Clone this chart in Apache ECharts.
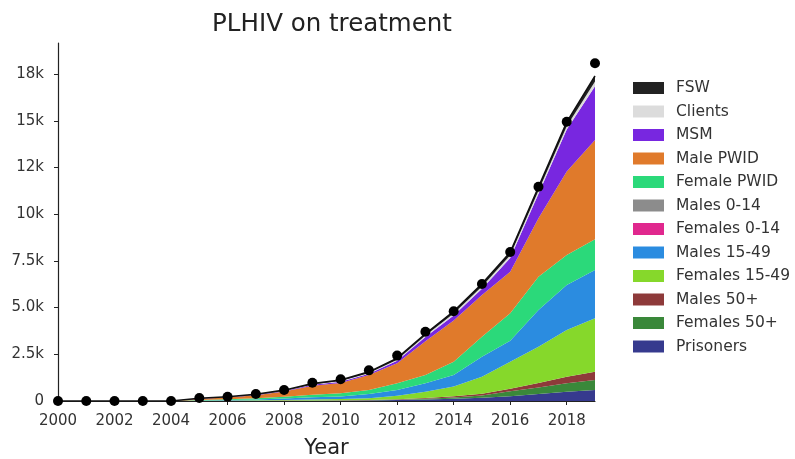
<!DOCTYPE html>
<html>
<head>
<meta charset="utf-8">
<script src="https://cdn.jsdelivr.net/npm/echarts@6/dist/echarts.min.js"></script>
<style>html,body{margin:0;padding:0;background:#fff}#c{width:795px;height:459px}</style>
</head>
<body>
<div id="c"></div>
<script>
const years = ['2000','2001','2002','2003','2004','2005','2006','2007','2008','2009','2010','2011','2012','2013','2014','2015','2016','2017','2018','2019'];
// stacked groups, bottom to top
const prisoners  = [0,0,0,0,0, 2, 4, 6,10,14,20,30,  50,  80, 120, 170, 260, 380, 500, 590];
const females50  = [0,0,0,0,0, 2, 3, 5, 6, 8,10,15,  20,  40,  70, 120, 260, 340, 450, 530];
const males50    = [0,0,0,0,0, 2, 3, 5, 6, 8,10,15,  25,  40,  70, 100, 130, 240, 350, 450];
const females1549= [0,0,0,0,0, 6,12,22,38,55,65,90, 185, 340, 510, 910,1450,1940,2500,2860];
const males1549  = [0,0,0,0,0,18,28,47,80,115,130,220,310,450, 620,1070,1120,1970,2410,2580];
const females014 = [0,0,0,0,0, 0, 0, 0, 0, 0, 0, 0,   0,   0,   0,   0,   0,   0,   0,   0];
const males014   = [0,0,0,0,0, 0, 0, 0, 0, 0, 0, 0,   0,   0,   0,   0,   0,   0,   0,   0];
const femalePWID = [0,0,0,0,0,30,40,60,90,140,180,220,360,440,710,1070,1480,1780,1610,1650];
const malePWID   = [0,0,0,0,0,60,100,165,280,480,545,800,1070,1810,2210,2230,2220,3130,4460,5310];
const msm        = [0,0,0,0,0,10,17,20,25,45,75,65, 130, 220, 270, 340, 740,1310,2250,2880];
const clients    = [0,0,0,0,0, 5, 8,10,15,25,35,45,  60,  80, 100, 120, 140, 160, 180, 250];
const fsw        = [0,0,0,0,0,10,15,20,30,40,50,60,  80, 100, 120, 140, 160, 200, 220, 300];
// data points (total on treatment)
const totalData  = [0,0,0,0,0,160,230,370,590,980,1160,1640,2430,3710,4800,6260,7980,11470,14950,18080];

const yTickValues = [0,2500,5000,7500,10000,12500,15000,17500];
const yTickLabels = ['0','2.5k','5.0k','7.5k','10k','12k','15k','18k'];

const groups = [
  {name:'Prisoners',     data:prisoners,   color:'#363a8e'},
  {name:'Females 50+',   data:females50,   color:'#3a883a'},
  {name:'Males 50+',     data:males50,     color:'#8e3a3a'},
  {name:'Females 15-49', data:females1549, color:'#86d82b'},
  {name:'Males 15-49',   data:males1549,   color:'#2b8ce0'},
  {name:'Females 0-14',  data:females014,  color:'#e0288e'},
  {name:'Males 0-14',    data:males014,    color:'#8c8c8c'},
  {name:'Female PWID',   data:femalePWID,  color:'#2bd97a'},
  {name:'Male PWID',     data:malePWID,    color:'#e07a2b'},
  {name:'MSM',           data:msm,         color:'#7827e0'},
  {name:'Clients',       data:clients,     color:'#dcdcdc'},
  {name:'FSW',           data:fsw,         color:'#222222'}
];
const legendOrder = ['FSW','Clients','MSM','Male PWID','Female PWID','Males 0-14','Females 0-14','Males 15-49','Females 15-49','Males 50+','Females 50+','Prisoners'];

const FONT = 'DejaVu Sans';
const series = groups.map(g => ({
  name: g.name,
  type: 'line',
  stack: 'total',
  symbol: 'none',
  smooth: false,
  data: g.data,
  itemStyle: {color: g.color, borderColor: g.name==='Clients' ? '#aaaaaa' : g.color},
  lineStyle: g.name==='FSW' ? {color:'#111', width:1.6} : {width:0},
  areaStyle: {color: g.color, opacity: 1},
  z: 2
}));
series.push({
  name: 'Data',
  type: 'scatter',
  data: totalData,
  symbolSize: 10,
  itemStyle: {color:'#000', opacity: 1},
  z: 5
});

const chart = echarts.init(document.getElementById('c'), null, {renderer:'canvas'});
chart.setOption({
  animation: false,
  backgroundColor: '#fff',
  title: {
    text: 'PLHIV on treatment', left: 327, top: 7, textAlign: 'center',
    textStyle: {fontFamily: FONT, fontSize: 24.5, fontWeight: 'normal', color: '#222'}
  },
  grid: {left: 58, right: 200, top: 43, bottom: 58, containLabel: false, outerBoundsMode: 'none'},
  legend: {
    data: legendOrder,
    orient: 'vertical',
    left: 628, top: 75,
    itemWidth: 31, itemHeight: 12, itemGap: 7.5,
    textStyle: {fontFamily: FONT, fontSize: 15.5, color: '#333', padding: [0,0,0,7]},
    icon: 'rect'
  },
  xAxis: {
    type: 'category', data: years, boundaryGap: false,
    name: 'Year', nameLocation: 'middle', nameGap: 37,
    nameTextStyle: {fontFamily: FONT, fontSize: 21, color: '#222'},
    axisLine: {show: true, lineStyle: {color: '#222', width: 1.2}},
    axisTick: {show: true, length: 4, interval: 1, lineStyle: {color: '#222'}},
    axisLabel: {fontFamily: FONT, fontSize: 15, color: '#333', margin: 13, interval: 1},
    splitLine: {show: false}
  },
  yAxis: {
    type: 'value', min: 0, max: 19165,
    axisLine: {show: true, lineStyle: {color: '#222', width: 1.2}},
    axisTick: {show: true, length: 4, lineStyle: {color: '#222'}, customValues: yTickValues},
    axisLabel: {
      fontFamily: FONT, fontSize: 15, color: '#333', margin: 14, customValues: yTickValues,
      formatter: v => { const i = yTickValues.indexOf(v); return i >= 0 ? yTickLabels[i] : ''; }
    },
    splitLine: {show: false}
  },
  series: series
});
</script>
</body>
</html>
